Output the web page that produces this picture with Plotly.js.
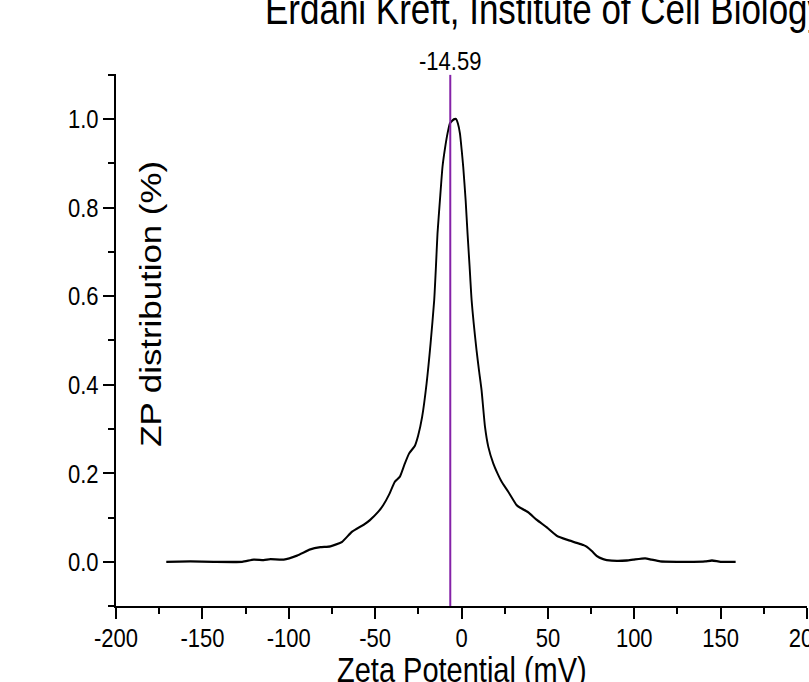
<!DOCTYPE html>
<html>
<head>
<meta charset="utf-8">
<script src="https://cdn.plot.ly/plotly-3.0.1.min.js"></script>
<style>
html,body{margin:0;padding:0;background:#fff;width:809px;height:682px;overflow:hidden;}
#wrap{width:809px;height:682px;overflow:hidden;position:relative;}
#chart{position:absolute;left:0;top:0;width:809px;height:568px;transform:scaleY(1.2007);transform-origin:0 0;}
</style>
</head>
<body>
<div id="wrap"><div id="chart"></div></div>
<script>
// Zeta potential (mV) and normalised ZP distribution
const zetaPotential = [-170.9,-157,-143.5,-127,-120.3,-114.5,-110.6,-102.9,-95.2,-87.5,-81.7,-75.9,-69.2,-63.4,-56.6,-53.1,-48.2,-45.3,-41.9,-38.6,-35.7,-32.8,-30.3,-27,-25.1,-22.8,-20.2,-17.9,-15.8,-14.8,-13.9,-12.5,-11,-9.5,-8.1,-6.7,-4.5,-3.2,-2.1,-0.9,0.1,1.0,2.4,3.5,4.7,5.85,8.7,10.2,11.6,13.6,15.5,18.4,20.8,23.2,27.1,31.9,34,38.6,43.5,49.3,55.1,60.9,66.7,70.5,72.5,75.5,78.3,82,84.1,90,95.7,99.5,106.3,110,115,125,134.4,141,145,150,158.7];
const zpDistribution = [0.000,0.001,0.000,0.000,0.005,0.004,0.006,0.005,0.014,0.028,0.033,0.035,0.045,0.068,0.084,0.094,0.113,0.128,0.152,0.181,0.192,0.222,0.245,0.262,0.285,0.327,0.403,0.493,0.591,0.666,0.741,0.816,0.892,0.935,0.967,0.990,0.999,1.000,0.990,0.967,0.930,0.892,0.816,0.741,0.666,0.591,0.478,0.430,0.388,0.305,0.260,0.222,0.200,0.181,0.158,0.128,0.122,0.112,0.095,0.078,0.059,0.050,0.043,0.038,0.034,0.024,0.013,0.006,0.004,0.002,0.003,0.005,0.008,0.005,0.001,0.000,0.000,0.001,0.003,0.000,0.000];
const markerX = [-6.5, -6.5];
const markerY = [-0.1, 1.1];
const markerLabel = "-14.59";
const xTickVals = [-200,-150,-100,-50,0,50,100,150,200];
const yTickVals = [0.0,0.2,0.4,0.6,0.8,1.0];
const chartTitle = "Erdani Kreft, Institute of Cell Biology";
const xTitle = "Zeta Potential (mV)";
const yTitle = "ZP distribution (%)";

const font = "Arial, 'Liberation Sans', sans-serif";
const S = 1.2007;            // vertical stretch of the reference picture
const W = 809, H = 568;      // unstretched drawing size
const plotTop = 75 / S, plotBottom = 606 / S;
const plotH = plotBottom - plotTop, plotW = W - 116 - 2;

const traces = [
  {x: zetaPotential, y: zpDistribution, type: 'scatter', mode: 'lines',
   line: {color: '#000000', width: 1.9, shape: 'spline', smoothing: 0.5},
   hoverinfo: 'skip', showlegend: false},
  {x: markerX, y: markerY, type: 'scatter', mode: 'lines',
   line: {color: '#8522a8', width: 2}, hoverinfo: 'skip', showlegend: false}
];

const layout = {
  width: W, height: H,
  margin: {l: 116, r: 2, t: plotTop, b: H - plotBottom, pad: 0},
  paper_bgcolor: '#ffffff', plot_bgcolor: '#ffffff',
  showlegend: false,
  font: {family: font, color: '#000000', size: 22},
  title: {text: chartTitle, font: {family: font, size: 35, color: '#000'},
          x: 265 / W, xanchor: 'left', xref: 'container',
          y: 1 - 8 / H, yanchor: 'middle', yref: 'container'},
  xaxis: {
    range: [-200, 200], tickvals: xTickVals, ticktext: xTickVals.map(String),
    showgrid: false, zeroline: false, showline: true, linecolor: '#000', linewidth: 1.7,
    ticks: 'outside', ticklen: 8.5, tickwidth: 2, tickcolor: '#000',
    ticklabeloverflow: 'allow', ticklabelstandoff: -3,
    tickfont: {family: font, size: 22, color: '#000'},
    minor: {dtick: 25, tick0: 0, ticks: 'outside', ticklen: 4.3, tickwidth: 2, tickcolor: '#000', showgrid: false},
    title: {text: ''}
  },
  yaxis: {
    range: [-0.1005, 1.1005], tickvals: yTickVals, ticktext: yTickVals.map(v => v.toFixed(1)),
    showgrid: false, zeroline: false, showline: true, linecolor: '#000', linewidth: 2,
    ticks: 'outside', ticklen: 11, tickwidth: 1.7, tickcolor: '#000',
    ticklabeloverflow: 'allow',
    tickfont: {family: font, size: 22, color: '#000'},
    minor: {dtick: 0.1, tick0: 0, ticks: 'outside', ticklen: 6, tickwidth: 1.7, tickcolor: '#000', showgrid: false},
    title: {text: ''}
  },
  annotations: [
    {text: markerLabel, x: markerX[0], xref: 'x', y: 1.1, yref: 'y',
     xanchor: 'center', yanchor: 'bottom', yshift: -3, showarrow: false,
     font: {family: font, size: 22, color: '#000'}},
    {text: xTitle, x: 0, xref: 'x', y: (plotBottom - 669 / S) / plotH, yref: 'paper',
     xanchor: 'center', yanchor: 'middle', showarrow: false,
     font: {family: font, size: 29, color: '#000'}},
    {text: yTitle, textangle: -90, x: (151 - 116) / plotW, xref: 'paper',
     y: (plotBottom - 304 / S) / plotH, yref: 'paper',
     xanchor: 'center', yanchor: 'middle', showarrow: false,
     font: {family: font, size: 29, color: '#000'}}
  ]
};

Plotly.newPlot('chart', traces, layout, {displayModeBar: false, staticPlot: true});
</script>
</body>
</html>
